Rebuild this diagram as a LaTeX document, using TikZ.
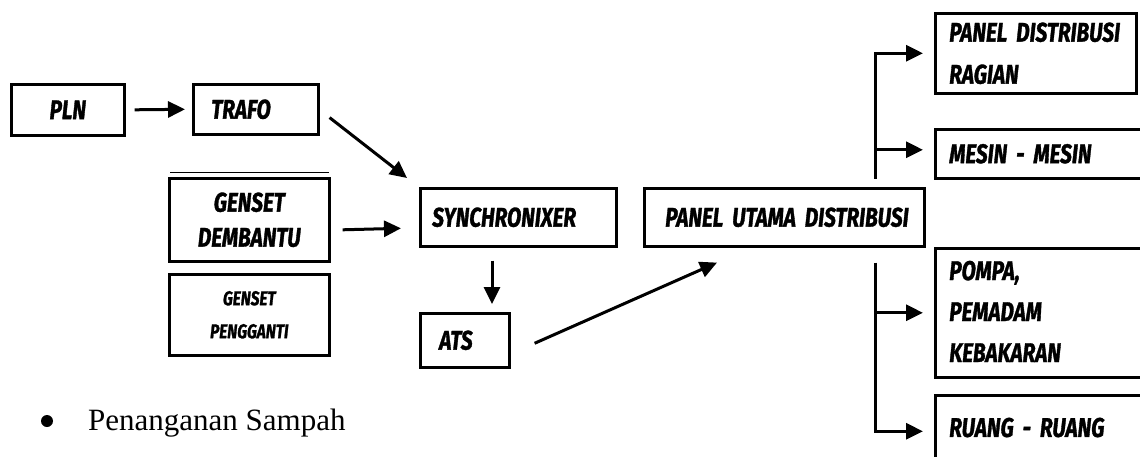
\documentclass[tikz,border=0pt]{standalone}
\usepackage{fontspec}
\setmainfont{Liberation Serif}
\newfontfamily\hand{Fira Sans}[FakeStretch=0.77, FakeBold=1.2]
\newcommand{\handfont}[2]{\hand\bfseries\itshape\fontsize{#1}{#2}\selectfont\spaceskip=4.5pt plus 1pt minus 1pt\relax}
\usetikzlibrary{arrows.meta,calc}

\begin{document}
\begin{tikzpicture}[x=1pt,y=-1pt,
  box/.style={draw, line width=2.6pt, inner ysep=0pt, inner xsep=#1,
    font=\handfont{27}{35}},
  box/.default=0pt,
  smallbox/.style={box=0pt, font=\handfont{20}{33}},
  arr/.style={line width=3pt, -{Triangle[length=17pt,width=16pt]}}]
\useasboundingbox (0,0) rectangle (1140,457);
\clip (0,0) rectangle (1140,457);

% supply side
\node[box, minimum width=113pt, minimum height=51pt, anchor=north west] (pln) at (10,83) {PLN};
\node[box=18pt, text width=89pt, align=left, minimum height=50pt, anchor=north west] (trafo) at (192,83) {\mbox{TRAFO}};
\node[box, text width=160pt, align=center, minimum height=83pt, anchor=north west] (gp) at (168,177) {GENSET\\DEMBANTU};
\draw[line width=1pt] ($(gp.north west)+(2,-4)$) -- ($(gp.north east)+(-2,-4)$);
\node[smallbox, text width=160pt, align=center, minimum height=81pt, anchor=north west] (gg) at (168,273) {GENSET\\PENGGANTI};

% switching
\node[box=12pt, text width=172pt, align=left, minimum height=58pt, anchor=north west] (syn) at (419,187) {\mbox{SYNCHRONIXER}};
\node[box=19pt, text width=51pt, align=left, minimum height=54pt, anchor=north west] (ats) at (419,312) {\mbox{ATS}};
\node[box=21pt, text width=238pt, align=left, minimum height=58pt, anchor=north west] (pud) at (643,187) {\mbox{PANEL UTAMA DISTRIBUSI}};

% consumers
\node[box=14pt, text width=173pt, align=left, minimum height=80pt, anchor=north west,
  font=\handfont{27}{42}] (pdr) at (934,12) {\mbox{PANEL DISTRIBUSI}\\\mbox{RAGIAN}};
\node[box=14pt, text width=198pt, align=left, minimum height=49pt, anchor=north west] (mesin) at (934,128) {\mbox{MESIN - MESIN}};
\node[box=14pt, text width=198pt, align=left, minimum height=129pt, anchor=north west,
  font=\handfont{27}{41}] (pompa) at (934,247)
  {\raisebox{9pt}{\begin{tabular}{@{}l@{}}POMPA,\\PEMADAM\\KEBAKARAN\end{tabular}}};
\node[box=14pt, text width=198pt, align=left, minimum height=72pt, anchor=north west] (ruang) at (934,394) {\raisebox{8pt}{RUANG - RUANG}};

% connectors
\draw[arr] ([xshift=9pt]pln.east) -- ([xshift=-7pt]trafo.west);
\draw[arr] ([shift={(10,-18)}]trafo.south east) -- ([shift={(-12,-9)}]syn.north west);
\draw[arr] ([shift={(12,10)}]gp.east) -- ([shift={(-18,11)}]syn.west);
\draw[arr] ([shift={(73,13)}]syn.south west) -- ([shift={(73,-8)}]ats.north west);
\draw[arr] ([shift={(24,3)}]ats.east) -- ([shift={(74,15)}]pud.south west);

\coordinate (busU) at ([shift={(-50,-8)}]pud.north east);
\coordinate (busL) at ([shift={(-50,15)}]pud.south east);
\draw[arr] (busU) |- ([xshift=-11pt]pdr.west);
\draw[arr] (busU |- mesin.west) ++(0,-4) -- ([shift={(-11,-4)}]mesin.west);
\draw[arr] (busL) |- ([xshift=-11pt]ruang.west);
\draw[arr] (busL |- pompa.west) -- ([xshift=-11pt]pompa.west);

% bullet line below the diagram
\node[circle, fill, inner sep=0pt, minimum size=12pt] (dot) at (47,421) {};
\node[anchor=base west, inner sep=0pt, font=\fontsize{31}{36}\selectfont] (sampah) at (88,430) {Penanganan Sampah};
\end{tikzpicture}
\end{document}
